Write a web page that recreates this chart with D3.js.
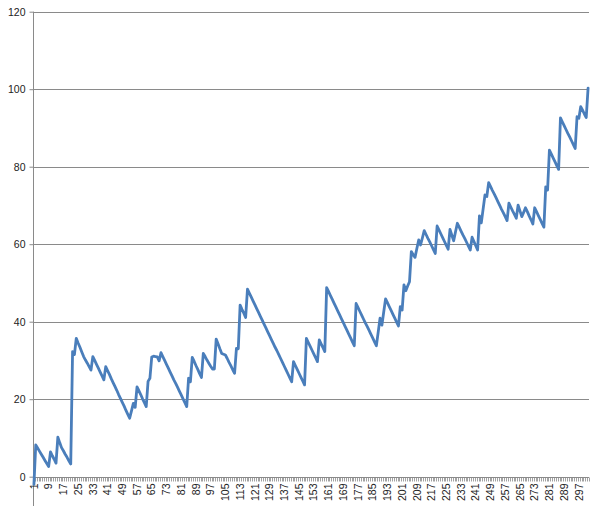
<!DOCTYPE html>
<html>
<head>
<meta charset="utf-8">
<script src="https://cdn.jsdelivr.net/npm/d3@7"></script>
<style>
  html, body { margin: 0; padding: 0; background: #fff; }
  svg { display: block; }
  text { font-family: "Liberation Sans", Arial, sans-serif; fill: #222; }
</style>
</head>
<body>
<svg id="chart" width="600" height="506"></svg>
<script>
// ---- data ----
const values = [
  -2.0, 8.2, 7.4, 6.6, 5.8, 5.0, 4.2, 3.4, 2.6, 6.4,
  5.4, 4.5, 3.5, 10.2, 8.8, 7.5, 6.7, 5.8, 5.0, 4.1,
  3.3, 32.3, 31.5, 35.7, 34.5, 33.4, 32.2, 31.0, 30.1, 29.3,
  28.4, 27.5, 31.0, 30.0, 29.0, 28.0, 27.0, 26.0, 25.0, 28.4,
  27.4, 26.4, 25.3, 24.3, 23.3, 22.3, 21.2, 20.2, 19.2, 18.2,
  17.1, 16.1, 15.1, 17.0, 18.9, 17.9, 23.2, 22.2, 21.2, 20.1,
  19.1, 18.1, 24.6, 25.4, 30.9, 31.1, 31.0, 30.9, 29.9, 32.0,
  31.0, 30.0, 29.0, 28.0, 27.0, 26.0, 25.0, 24.1, 23.1, 22.1,
  21.1, 20.1, 19.1, 18.1, 25.4, 24.5, 30.8, 29.8, 28.7, 27.7,
  26.6, 25.6, 31.8, 31.0, 30.1, 29.3, 28.5, 27.8, 27.8, 35.5,
  34.3, 33.0, 31.8, 31.6, 31.4, 30.5, 29.5, 28.6, 27.6, 26.7,
  33.1, 33.0, 44.3, 43.2, 42.2, 41.1, 48.4, 47.4, 46.4, 45.4,
  44.4, 43.4, 42.4, 41.4, 40.4, 39.4, 38.4, 37.4, 36.4, 35.4,
  34.4, 33.4, 32.5, 31.5, 30.5, 29.5, 28.5, 27.5, 26.5, 25.5,
  24.5, 29.7, 28.7, 27.7, 26.7, 25.7, 24.7, 23.7, 35.7, 34.7,
  33.7, 32.7, 31.7, 30.7, 29.7, 35.3, 34.3, 33.3, 32.3, 48.8,
  47.8, 46.8, 45.8, 44.8, 43.8, 42.8, 41.8, 40.8, 39.8, 38.8,
  37.8, 36.8, 35.8, 34.8, 33.8, 44.7, 43.7, 42.7, 41.7, 40.7,
  39.7, 38.8, 37.8, 36.8, 35.8, 34.8, 33.8, 37.3, 40.9, 39.1,
  42.5, 45.9, 44.9, 43.9, 42.9, 41.9, 40.9, 39.9, 38.9, 43.9,
  43.0, 49.5, 48.0, 49.2, 50.3, 58.1, 57.3, 56.6, 58.9, 61.1,
  59.8, 61.6, 63.5, 62.5, 61.5, 60.6, 59.6, 58.6, 57.6, 64.7,
  63.7, 62.7, 61.7, 60.7, 59.7, 58.7, 63.8, 62.3, 60.9, 63.2,
  65.4, 64.4, 63.4, 62.4, 61.5, 60.5, 59.5, 58.5, 61.8, 60.7,
  59.6, 58.5, 67.3, 65.5, 69.1, 72.7, 72.3, 75.9, 74.9, 73.9,
  73.0, 72.0, 71.0, 70.0, 69.0, 68.1, 67.1, 66.1, 70.6, 69.6,
  68.6, 67.7, 66.7, 70.1, 68.6, 67.1, 68.2, 69.4, 68.4, 67.3,
  66.3, 65.2, 69.4, 68.4, 67.4, 66.4, 65.4, 64.4, 74.8, 74.0,
  84.3, 83.3, 82.3, 81.3, 80.3, 79.3, 92.6, 91.6, 90.6, 89.6,
  88.6, 87.7, 86.7, 85.7, 84.7, 92.9, 92.5, 95.5, 94.6, 93.6,
  92.7, 100.3
];
const categories = d3.range(1, values.length + 1);
const xTickLabels = [1, 9, 17, 25, 33, 41, 49, 57, 65, 73, 81, 89, 97, 105, 113, 121, 129, 137, 145, 153,
  161, 169, 177, 185, 193, 201, 209, 217, 225, 233, 241, 249, 257, 265, 273, 281, 289, 297];
const yTicks = [0, 20, 40, 60, 80, 100, 120];

// ---- layout ----
const svg = d3.select("#chart");
const left = 33, right = 589, yZeroPx = 476.7, yTopPx = 11.7;
const gray = "#8a8a8a";

const x = d3.scaleBand().domain(categories).range([left, right]).padding(0);
const y = d3.scaleLinear().domain([0, 120]).range([yZeroPx, yTopPx]);
const cx = c => x(c) + x.bandwidth() / 2;

// gridlines (major)
svg.append("g").selectAll("line").data(yTicks.filter(d => d > 0)).join("line")
  .attr("x1", left).attr("x2", right)
  .attr("y1", d => Math.round(y(d)) + 0.5).attr("y2", d => Math.round(y(d)) + 0.5)
  .attr("stroke", gray).attr("stroke-width", 1);

// y axis
const yAxis = d3.axisLeft(y).tickValues(yTicks).tickSize(4).tickPadding(4);
const gy = svg.append("g").attr("transform", `translate(${left + 0.5},0)`).call(yAxis);
gy.select(".domain").remove();
gy.selectAll(".tick line").attr("stroke", gray);
gy.selectAll(".tick text").attr("font-size", 10.5).attr("fill", "#222")
  .style("font-family", "'Liberation Sans', Arial, sans-serif");
// y axis line extends below the zero line (negative range cropped)
svg.append("line").attr("x1", left + 0.5).attr("x2", left + 0.5)
  .attr("y1", yTopPx).attr("y2", 506).attr("stroke", gray).attr("stroke-width", 1);

// x axis at zero
const gx = svg.append("g").attr("transform", `translate(0,${Math.round(yZeroPx) + 0.5})`);
gx.append("line").attr("x1", left).attr("x2", right).attr("stroke", gray);
// category tick marks at each category boundary
gx.selectAll("line.tk").data(categories.concat([null])).join("line").attr("class", "tk")
  .attr("x1", (d, i) => Math.round(left + i * x.bandwidth()) + 0.5)
  .attr("x2", (d, i) => Math.round(left + i * x.bandwidth()) + 0.5)
  .attr("y1", 0).attr("y2", 4).attr("stroke", gray).attr("stroke-width", 0.8);
// labels
gx.selectAll("text").data(xTickLabels).join("text")
  .attr("transform", d => `translate(${cx(d)},6) rotate(-90)`)
  .attr("text-anchor", "end").attr("dy", "0.35em")
  .attr("font-size", 10.5).attr("fill", "#222")
  .text(d => d);

// series line
const line = d3.line().x((d, i) => cx(categories[i])).y(d => y(d));
svg.append("path").datum(values)
  .attr("d", line).attr("fill", "none")
  .attr("stroke", "#4a7ebb").attr("stroke-width", 2.8)
  .attr("stroke-linejoin", "round").attr("stroke-linecap", "round");
</script>
</body>
</html>
